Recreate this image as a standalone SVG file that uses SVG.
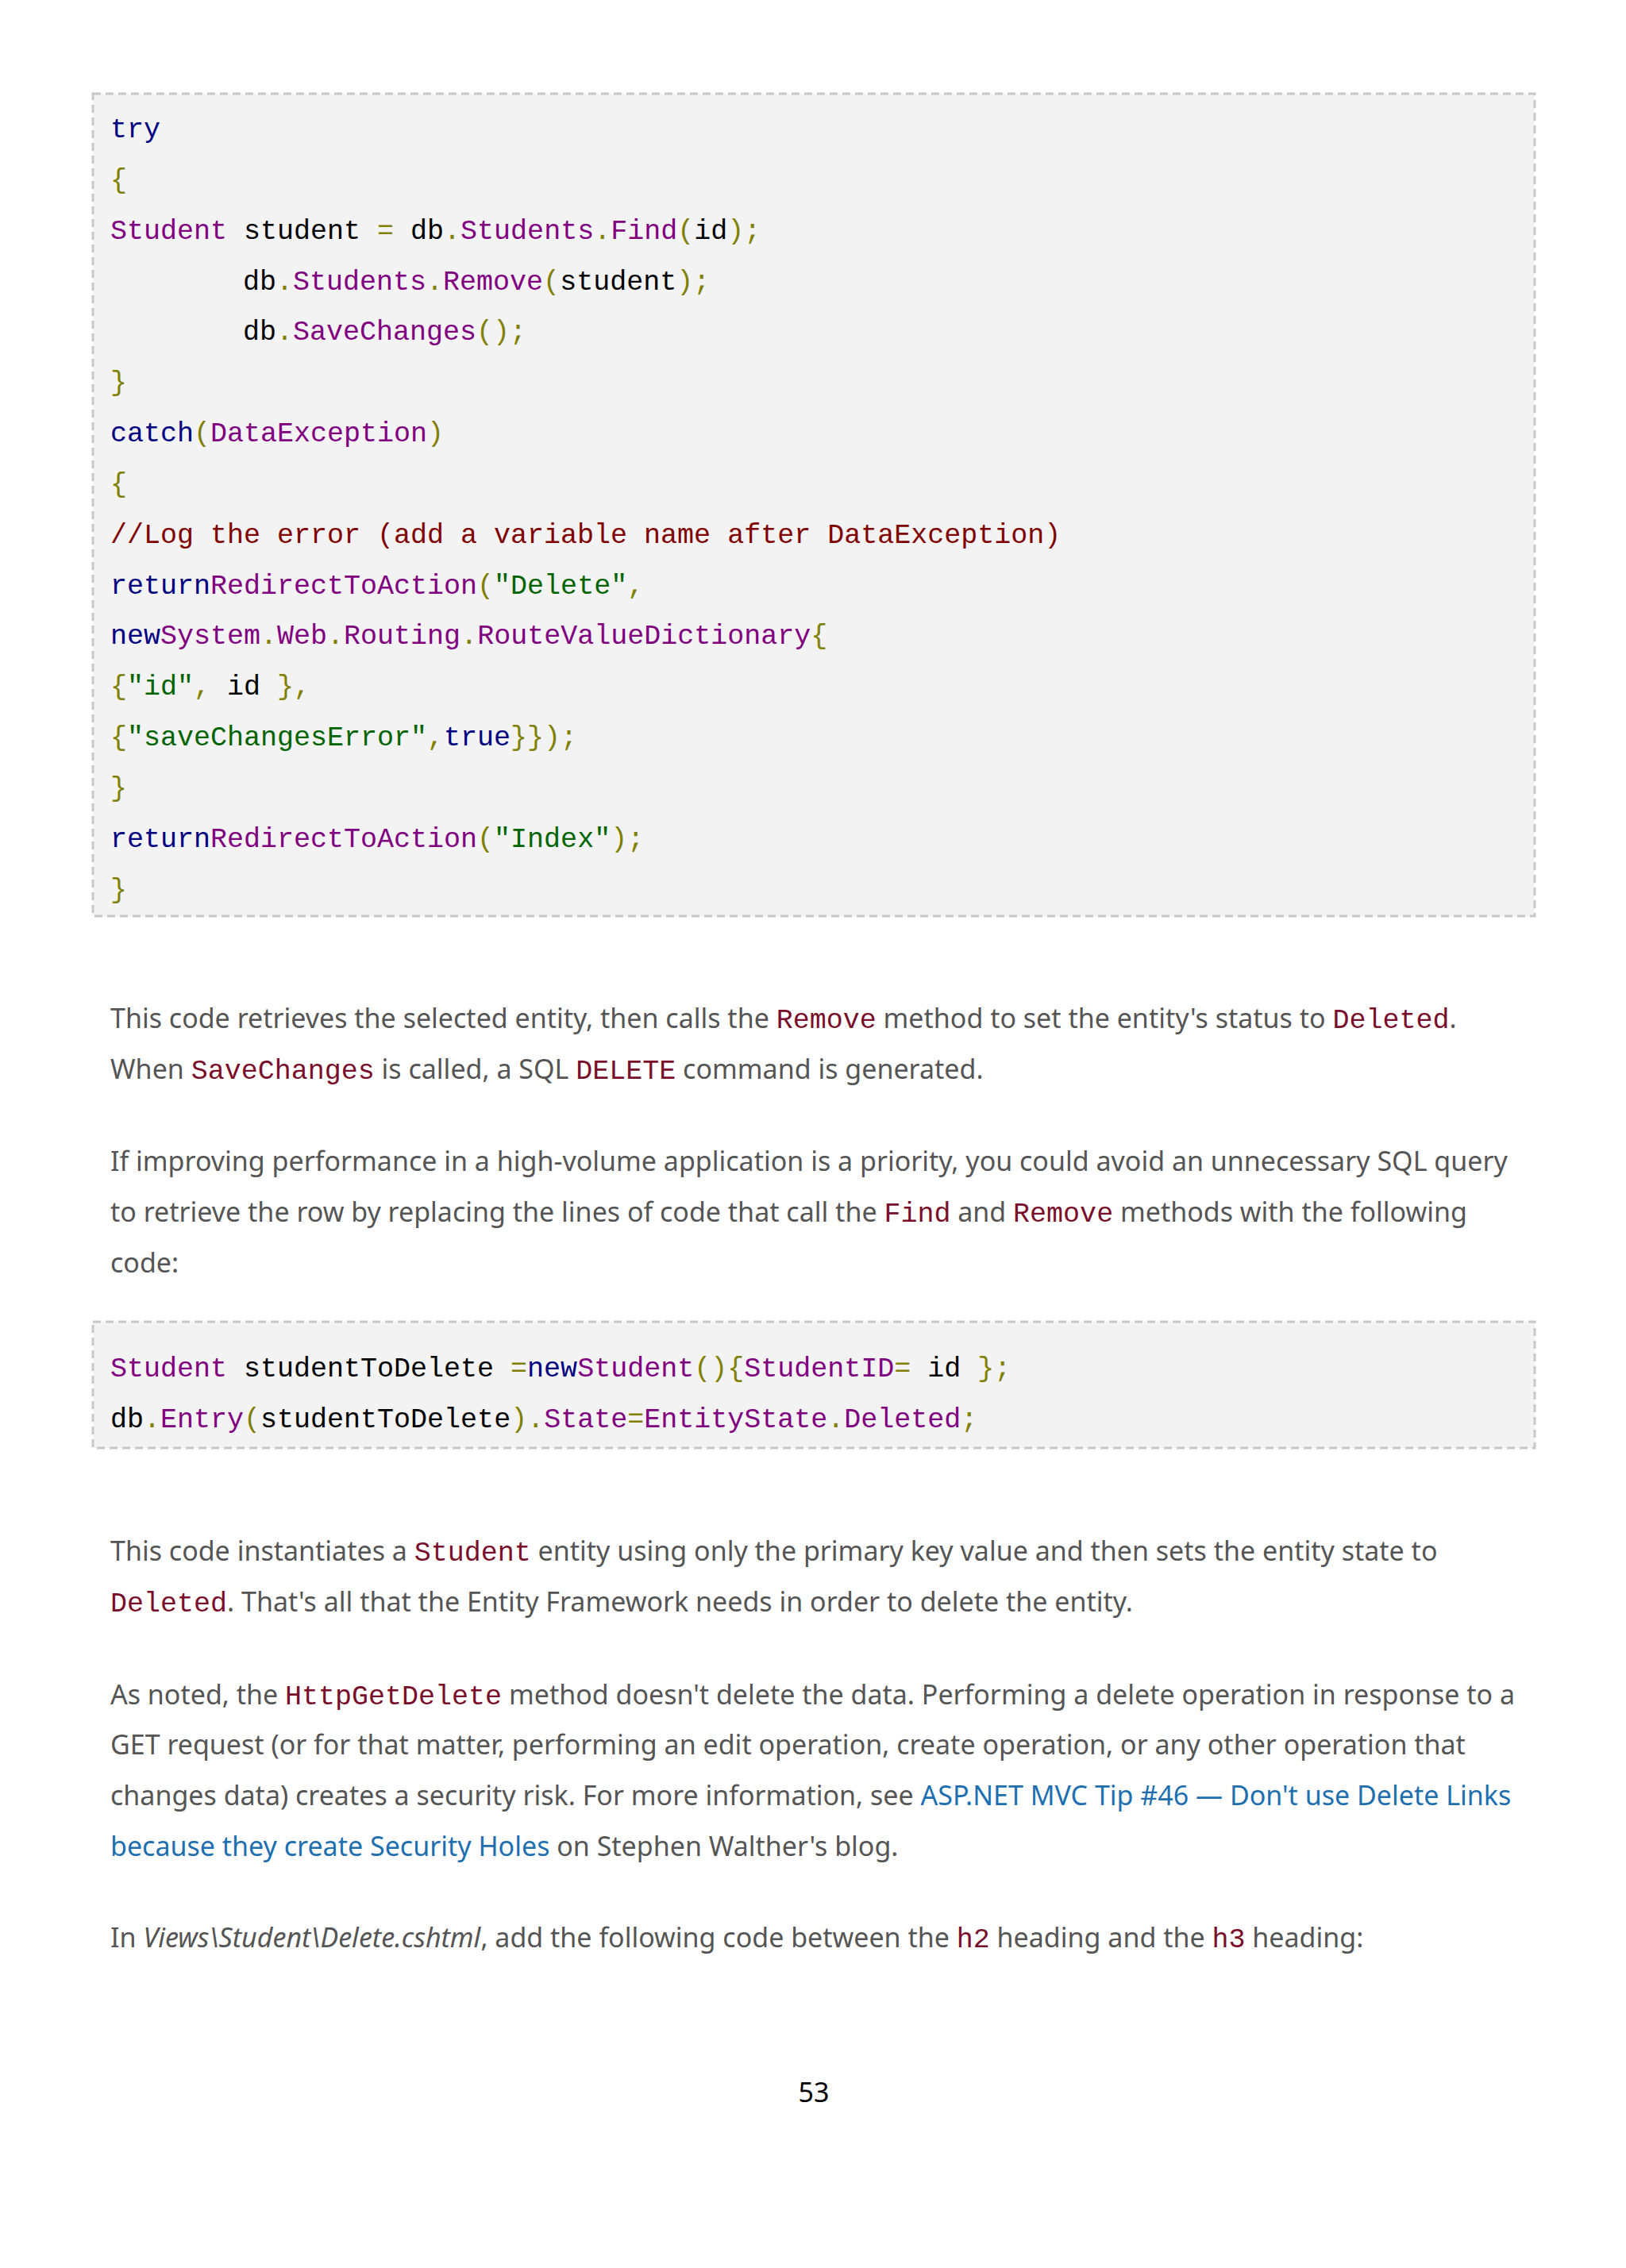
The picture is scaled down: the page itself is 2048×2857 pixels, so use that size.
<svg xmlns="http://www.w3.org/2000/svg" width="2048" height="2857" viewBox="0 0 2048 2857">
<style>
.c{font-family:"Liberation Mono",monospace;font-size:35px;fill:#000}
.k{fill:#000080}.t{fill:#800080}.p{fill:#808000}.m{fill:#800000}.s{fill:#006400}
.x{font-family:"Noto Sans","Liberation Sans",sans-serif;font-size:34px;fill:#555}
.ic{font-family:"Liberation Mono",monospace;font-size:35px;fill:#7a0f2c}
.ln{fill:#1e6fb0}
.box{fill:#f3f3f4;stroke:#c8c8c8;stroke-width:3;stroke-dasharray:10 6}
</style>
<rect width="2048" height="2857" fill="#fff"/>
<g id="code1">
<rect class="box" x="117" y="118" width="1816" height="1036"/>
<text class="c" x="139" y="173"><tspan class="k">try</tspan></text>
<text class="c" x="139" y="237"><tspan class="p">{</tspan></text>
<text class="c" x="139" y="301"><tspan class="t">Student</tspan> student <tspan class="p">=</tspan> db<tspan class="p">.</tspan><tspan class="t">Students</tspan><tspan class="p">.</tspan><tspan class="t">Find</tspan><tspan class="p">(</tspan>id<tspan class="p">);</tspan></text>
<text class="c" x="306" y="365">db<tspan class="p">.</tspan><tspan class="t">Students</tspan><tspan class="p">.</tspan><tspan class="t">Remove</tspan><tspan class="p">(</tspan>student<tspan class="p">);</tspan></text>
<text class="c" x="306" y="428">db<tspan class="p">.</tspan><tspan class="t">SaveChanges</tspan><tspan class="p">();</tspan></text>
<text class="c" x="139" y="492"><tspan class="p">}</tspan></text>
<text class="c" x="139" y="556"><tspan class="k">catch</tspan><tspan class="p">(</tspan><tspan class="t">DataException</tspan><tspan class="p">)</tspan></text>
<text class="c" x="139" y="620"><tspan class="p">{</tspan></text>
<text class="c" x="139" y="684"><tspan class="m">//Log the error (add a variable name after DataException)</tspan></text>
<text class="c" x="139" y="748"><tspan class="k">return</tspan><tspan class="t">RedirectToAction</tspan><tspan class="p">(</tspan><tspan class="s">"Delete"</tspan><tspan class="p">,</tspan></text>
<text class="c" x="139" y="811"><tspan class="k">new</tspan><tspan class="t">System</tspan><tspan class="p">.</tspan><tspan class="t">Web</tspan><tspan class="p">.</tspan><tspan class="t">Routing</tspan><tspan class="p">.</tspan><tspan class="t">RouteValueDictionary</tspan><tspan class="p">{</tspan></text>
<text class="c" x="139" y="875"><tspan class="p">{</tspan><tspan class="s">"id"</tspan><tspan class="p">,</tspan> id <tspan class="p">},</tspan></text>
<text class="c" x="139" y="939"><tspan class="p">{</tspan><tspan class="s">"saveChangesError"</tspan><tspan class="p">,</tspan><tspan class="k">true</tspan><tspan class="p">}});</tspan></text>
<text class="c" x="139" y="1003"><tspan class="p">}</tspan></text>
<text class="c" x="139" y="1067"><tspan class="k">return</tspan><tspan class="t">RedirectToAction</tspan><tspan class="p">(</tspan><tspan class="s">"Index"</tspan><tspan class="p">);</tspan></text>
<text class="c" x="139" y="1131"><tspan class="p">}</tspan></text>
</g>
<g id="para1">
<text class="x" x="139" y="1295">This code retrieves the selected entity, then calls the <tspan class="ic">Remove</tspan> method to set the entity's status to <tspan class="ic">Deleted</tspan>.</text>
<text class="x" x="139" y="1359">When <tspan class="ic">SaveChanges</tspan> is called, a SQL <tspan class="ic">DELETE</tspan> command is generated.</text>
</g>
<g id="para2">
<text class="x" x="139" y="1475">If improving performance in a high-volume application is a priority, you could avoid an unnecessary SQL query</text>
<text class="x" x="139" y="1539">to retrieve the row by replacing the lines of code that call the <tspan class="ic">Find</tspan> and <tspan class="ic">Remove</tspan> methods with the following</text>
<text class="x" x="139" y="1603">code:</text>
</g>
<g id="code2">
<rect class="box" x="117" y="1665" width="1816" height="159"/>
<text class="c" x="139" y="1734"><tspan class="t">Student</tspan> studentToDelete <tspan class="p">=</tspan><tspan class="k">new</tspan><tspan class="t">Student</tspan><tspan class="p">(){</tspan><tspan class="t">StudentID</tspan><tspan class="p">=</tspan> id <tspan class="p">};</tspan></text>
<text class="c" x="139" y="1798">db<tspan class="p">.</tspan><tspan class="t">Entry</tspan><tspan class="p">(</tspan>studentToDelete<tspan class="p">).</tspan><tspan class="t">State</tspan><tspan class="p">=</tspan><tspan class="t">EntityState</tspan><tspan class="p">.</tspan><tspan class="t">Deleted</tspan><tspan class="p">;</tspan></text>
</g>
<g id="para3">
<text class="x" x="139" y="1966">This code instantiates a <tspan class="ic">Student</tspan> entity using only the primary key value and then sets the entity state to</text>
<text class="x" x="139" y="2030"><tspan class="ic">Deleted</tspan>. That's all that the Entity Framework needs in order to delete the entity.</text>
</g>
<g id="para4">
<text class="x" x="139" y="2147">As noted, the <tspan class="ic">HttpGetDelete</tspan> method doesn't delete the data. Performing a delete operation in response to a</text>
<text class="x" x="139" y="2210">GET request (or for that matter, performing an edit operation, create operation, or any other operation that</text>
<text class="x" x="139" y="2274">changes data) creates a security risk. For more information, see <tspan class="ln">ASP.NET MVC Tip #46 — Don't use Delete Links</tspan></text>
<text class="x" x="139" y="2338"><tspan class="ln">because they create Security Holes</tspan> on Stephen Walther's blog.</text>
</g>
<g id="para5">
<text class="x" x="139" y="2453">In <tspan font-style="italic">Views\Student\Delete.cshtml</tspan>, add the following code between the <tspan class="ic">h2</tspan> heading and the <tspan class="ic">h3</tspan> heading:</text>
</g>
<text x="1025" y="2648" text-anchor="middle" font-family="Noto Sans,Liberation Sans,sans-serif" font-size="34" fill="#000">53</text>
</svg>
